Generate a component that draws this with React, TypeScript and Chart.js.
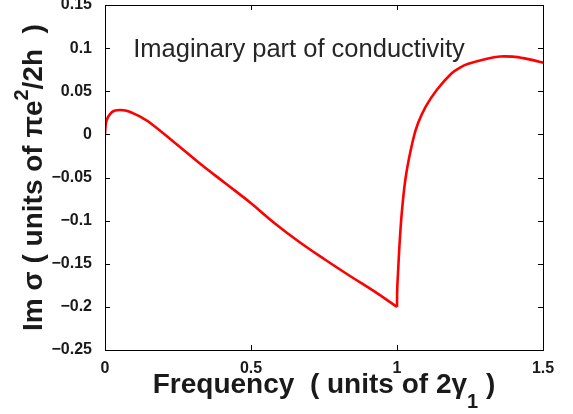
import React, { useEffect, useRef } from "react";
import { Chart, registerables } from "chart.js";

Chart.register(...registerables);

// Frequency in units of 2*gamma_1, below the threshold at 1
const frequencyBelow = [
  0, 0.002, 0.006, 0.012, 0.023, 0.035, 0.051, 0.07, 0.097, 0.125, 0.154,
  0.24, 0.325, 0.411, 0.497, 0.582, 0.668, 0.753, 0.839, 0.925, 1.0,
];
// Im sigma (units of pi e^2 / 2h), below the threshold
const imSigmaBelow = [
  0, 0.01, 0.0167, 0.021, 0.0256, 0.0276, 0.0283, 0.0277, 0.0244, 0.0196,
  0.0135, -0.01, -0.0338, -0.0564, -0.079, -0.1033, -0.1254, -0.1451, -0.1642,
  -0.1827, -0.2,
];
// Frequency above the threshold
const frequencyAbove = [
  1.0, 1.0007, 1.0034, 1.0096, 1.0182, 1.0319, 1.0548, 1.0719, 1.0983, 1.136,
  1.1873, 1.2158, 1.2442, 1.3014, 1.3527, 1.4041, 1.4325, 1.4658, 1.5,
];
// Im sigma above the threshold
const imSigmaAbove = [
  -0.2, -0.1804, -0.1611, -0.1225, -0.084, -0.0451, -0.0065, 0.0128, 0.0321,
  0.0515, 0.0708, 0.0775, 0.0818, 0.0872, 0.0903, 0.0899, 0.0884, 0.0861,
  0.0832,
];
const xTickValues = [0, 0.5, 1, 1.5];
const yTickValues = [-0.25, -0.2, -0.15, -0.1, -0.05, 0, 0.05, 0.1, 0.15];
const annotationText = "Imaginary part of conductivity";
const annotationAt = { x: 0.1, y: 0.1 };
const yTitleParts = [
  { t: "Im σ ( units of πe", kind: "n" },
  { t: "2", kind: "sup" },
  { t: "/2h  )", kind: "n" },
];
const xTitleParts = [
  { t: "Frequency  ( units of 2γ", kind: "n" },
  { t: "1", kind: "sub" },
  { t: " )", kind: "n" },
];

const FAMILY = '"Liberation Sans", Arial, Helvetica, sans-serif';
const INK = "#1a1a1a";

function fmt(v: number): string {
  const s = String(Number(v.toFixed(2)));
  return s.replace("-", "\u2212");
}

function drawParts(
  ctx: CanvasRenderingContext2D,
  parts: { t: string; kind: string }[],
  cx: number,
  baseY: number,
  size: number
) {
  const fonts = parts.map((p) =>
    p.kind === "n" ? `bold ${size}px ${FAMILY}` : `bold ${Math.round(size * 0.7)}px ${FAMILY}`
  );
  const widths = parts.map((p, i) => {
    ctx.font = fonts[i];
    return ctx.measureText(p.t).width;
  });
  const total = widths.reduce((a, b) => a + b, 0);
  let x = cx - total / 2;
  ctx.textBaseline = "alphabetic";
  ctx.textAlign = "left";
  parts.forEach((p, i) => {
    ctx.font = fonts[i];
    let dy = 0;
    if (p.kind === "sup") dy = -size * 0.5;
    if (p.kind === "sub") dy = size * 0.55;
    ctx.fillText(p.t, x, baseY + dy);
    x += widths[i];
  });
}

const framePlugin = {
  id: "matlabFrame",
  afterDraw(chart: any) {
    const { ctx, chartArea } = chart;
    const { left, right, top, bottom } = chartArea;
    const xs = chart.scales.x;
    const ys = chart.scales.y;
    ctx.save();
    ctx.strokeStyle = "#000";
    ctx.lineWidth = 1;
    ctx.strokeRect(Math.round(left) + 0.5, Math.round(top) + 0.5, Math.round(right - left), Math.round(bottom - top));
    const tl = 5;
    ctx.beginPath();
    yTickValues.forEach((v) => {
      const py = Math.round(ys.getPixelForValue(v)) + 0.5;
      ctx.moveTo(left, py);
      ctx.lineTo(left + tl, py);
      ctx.moveTo(right - tl, py);
      ctx.lineTo(right, py);
    });
    xTickValues.forEach((v) => {
      const px = Math.round(xs.getPixelForValue(v)) + 0.5;
      ctx.moveTo(px, bottom);
      ctx.lineTo(px, bottom - tl);
      ctx.moveTo(px, top);
      ctx.lineTo(px, top + tl);
    });
    ctx.stroke();

    // annotation
    ctx.fillStyle = "#262626";
    ctx.font = `25.5px ${FAMILY}`;
    ctx.textAlign = "left";
    ctx.textBaseline = "alphabetic";
    ctx.fillText(
      annotationText,
      xs.getPixelForValue(annotationAt.x) - 1,
      ys.getPixelForValue(annotationAt.y) + 9
    );

    // axis titles
    ctx.fillStyle = INK;
    drawParts(ctx, xTitleParts, (left + right) / 2, 393, 28);
    ctx.save();
    ctx.translate(42, (top + bottom) / 2);
    ctx.rotate(-Math.PI / 2);
    drawParts(ctx, yTitleParts, 0, 0, 28);
    ctx.restore();
    ctx.restore();
  },
};

function series(xs: number[], ys: number[]) {
  return {
    data: xs.map((f, i) => ({ x: f, y: ys[i] })),
    borderColor: "#ff0000",
    borderWidth: 2.6,
    pointRadius: 0,
    tension: 0.4,
    fill: false,
  };
}

export default function App() {
  const ref = useRef<HTMLCanvasElement | null>(null);
  useEffect(() => {
    document.body.style.margin = "0";
    const canvas = ref.current;
    if (!canvas) return;
    const chart = new Chart(canvas, {
      type: "line",
      data: {
        datasets: [
          series(frequencyBelow, imSigmaBelow),
          series(frequencyAbove, imSigmaAbove),
        ],
      },
      options: {
        animation: false,
        responsive: false,
        devicePixelRatio: 1,
        layout: { padding: { top: 5, right: 30, left: 0, bottom: 0 } },
        plugins: { legend: { display: false }, tooltip: { enabled: false } },
        scales: {
          x: {
            type: "linear",
            min: 0,
            max: 1.5,
            afterBuildTicks: (s: any) => {
              s.ticks = xTickValues.map((v) => ({ value: v }));
            },
            afterFit: (s: any) => {
              s.height = 64;
              s.paddingLeft = 0;
              s.paddingRight = 0;
            },
            grid: { display: false },
            border: { display: false },
            ticks: {
              padding: 1,
              maxRotation: 0,
              color: INK,
              font: { family: FAMILY, size: 16, weight: "bold" },
              callback: (v: any) => fmt(Number(v)),
            },
          },
          y: {
            type: "linear",
            min: -0.25,
            max: 0.15,
            afterBuildTicks: (s: any) => {
              s.ticks = yTickValues.map((v) => ({ value: v }));
            },
            afterFit: (s: any) => {
              s.width = 105;
              s.paddingTop = 0;
              s.paddingBottom = 0;
            },
            grid: { display: false },
            border: { display: false },
            ticks: {
              padding: 5,
              color: INK,
              font: { family: FAMILY, size: 16, weight: "bold" },
              callback: (v: any) => fmt(Number(v)),
            },
          },
        },
      },
      plugins: [framePlugin],
    } as any);
    return () => chart.destroy();
  }, []);
  return (
    <div style={{ position: "absolute", left: 0, top: 0, width: 573, height: 414, background: "#fff" }}>
      <canvas ref={ref} width={573} height={414} />
    </div>
  );
}
